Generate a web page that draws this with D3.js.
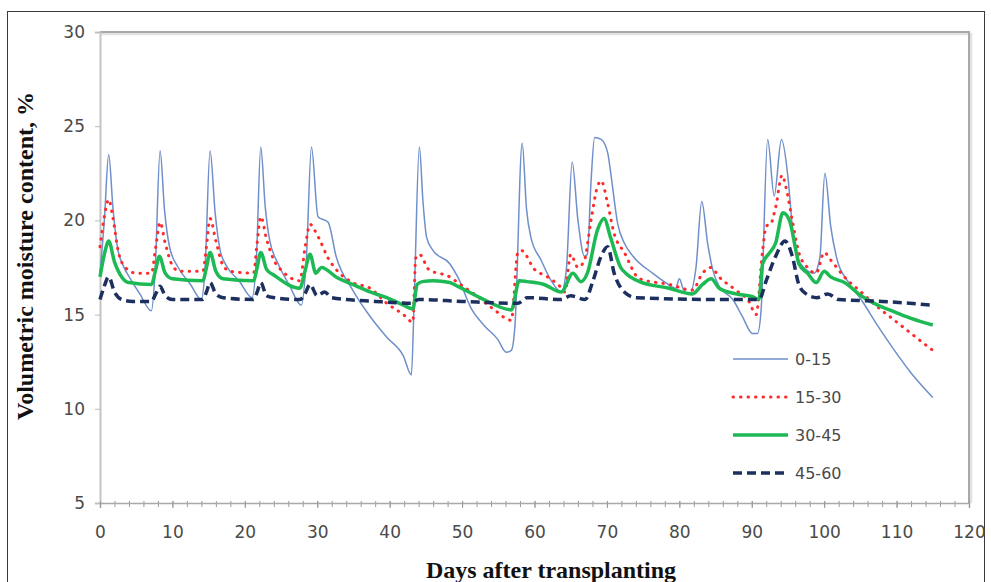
<!DOCTYPE html>
<html>
<head>
<meta charset="utf-8">
<script src="https://cdn.jsdelivr.net/npm/d3@7"></script>
<style>
  html, body { margin: 0; padding: 0; background: #fff; }
  svg { display: block; }
</style>
</head>
<body>
<svg id="chart" width="991" height="582"></svg>
<script>
// Soil moisture by depth layer (cm), [day after transplanting, volumetric moisture %]
const layer0_15 = [[0,17.2],[0.6,20.0],[1.2,23.5],[1.8,20.6],[2.4,18.6],[3.2,17.6],[4.2,16.9],[5.5,16.1],[7.1,15.2],[7.6,17.2],[8.3,23.7],[8.9,20.6],[9.6,18.6],[10.8,17.5],[12.5,16.6],[14.0,15.8],[14.5,17.4],[15.2,23.7],[15.9,20.4],[16.6,18.4],[17.6,17.5],[19.2,16.8],[21.0,15.9],[21.6,18.0],[22.2,23.9],[22.8,20.8],[23.4,19.0],[24.6,17.7],[26.1,16.6],[27.8,15.5],[28.5,18.0],[29.2,23.9],[30.1,20.2],[31.5,19.9],[32.6,18.1],[34.9,16.3],[37.3,14.9],[39.6,13.8],[41.9,12.8],[43.0,11.8],[43.4,16.0],[44.1,23.9],[44.6,21.0],[45.1,19.1],[46.0,18.4],[48.3,17.7],[49.4,17.0],[51.3,15.3],[53.1,14.4],[54.9,13.7],[56.1,13.0],[56.8,13.1],[57.3,14.4],[58.3,24.1],[58.9,20.6],[59.5,19.1],[60.9,17.9],[62.3,16.8],[63.7,16.2],[64.4,17.4],[65.2,23.1],[66.0,20.0],[66.9,18.1],[67.3,18.2],[67.8,22.0],[68.3,24.4],[69.2,24.3],[70.1,23.6],[70.6,22.3],[71.5,19.8],[72.4,18.8],[73.6,18.1],[76.3,17.2],[78.1,16.7],[79.5,16.4],[80.0,16.9],[80.6,16.3],[81.4,16.1],[82.3,17.5],[83.1,21.0],[83.9,18.8],[84.6,17.4],[85.5,16.5],[87.4,15.8],[88.7,14.9],[90.1,14.0],[90.8,14.0],[91.3,15.3],[92.2,24.3],[93.1,21.3],[94.1,24.3],[95.0,22.3],[95.6,19.7],[96.5,17.9],[97.2,17.5],[98.6,17.2],[99.4,18.0],[100.1,22.5],[100.9,19.7],[101.8,17.9],[103.2,16.8],[105.1,15.8],[107.4,14.4],[109.7,13.1],[112.0,11.9],[115.0,10.6]];

const layer15_30 = [[0,18.6],[0.6,20.2],[1.2,21.1],[1.8,20.1],[2.5,18.4],[3.5,17.5],[5,17.2],[7.1,17.2],[7.7,18.6],[8.3,19.9],[9.0,18.8],[10,17.6],[11,17.3],[14.2,17.3],[14.7,18.6],[15.2,20.1],[16,18.9],[17,17.6],[18,17.3],[21.2,17.2],[21.7,18.8],[22.2,20.2],[23,19.0],[24,17.9],[25.2,17.3],[27.6,16.8],[28.3,18.5],[29.0,19.8],[29.6,19.5],[30.3,19.0],[31.5,18.0],[32.6,17.4],[34.9,16.7],[37.3,16.4],[39.6,15.6],[41.9,15.0],[43.2,14.6],[43.6,18.0],[44.1,18.2],[45.4,17.4],[48.3,17.0],[49.4,16.7],[52,16.0],[54.3,15.3],[56.8,14.7],[57.7,18.3],[58.2,18.4],[60,17.4],[61.8,17.0],[63.5,16.5],[64.2,16.2],[65,18.2],[66,17.5],[66.9,17.9],[67.8,20.0],[68.7,21.8],[69.2,22.1],[70.1,20.9],[71,19.3],[72.4,18.3],[74.5,16.9],[78.6,16.6],[81.8,16.3],[83.2,17.2],[84.4,17.5],[85.5,17.0],[87.8,16.3],[89.6,15.7],[90.6,15.0],[91.5,18.4],[92,19.7],[92.6,19.8],[93.3,20.7],[94.2,22.4],[94.7,21.8],[95.6,20.0],[96.5,18.3],[97.7,17.5],[98.9,17.2],[100,18.3],[100.9,17.9],[102.8,17.0],[105.1,16.2],[107.4,15.4],[109.7,14.7],[112,14.0],[115,13.1]];

const layer30_45 = [[0,17.0],[0.6,18.2],[1.2,18.9],[2,17.8],[3,17.0],[4,16.7],[7.1,16.6],[7.7,17.4],[8.2,18.1],[9,17.2],[10,16.9],[14.2,16.8],[14.7,17.5],[15.2,18.3],[16,17.3],[17,16.9],[21.2,16.8],[21.7,17.5],[22.2,18.3],[23,17.4],[24,17.1],[27.6,16.4],[28.3,17.3],[29,18.2],[29.8,17.2],[30.6,17.5],[32.6,17.0],[34.9,16.6],[37.3,16.2],[39.6,15.9],[41.9,15.5],[43.2,15.3],[43.8,16.6],[44.5,16.75],[46,16.8],[48.3,16.7],[49.4,16.5],[53,15.8],[56.8,15.25],[57.9,16.8],[59,16.75],[61.3,16.6],[63.7,16.2],[65.3,17.2],[66.4,16.75],[67.3,17.2],[68.7,19.5],[69.6,20.1],[70.5,19.1],[71.9,17.5],[72.6,17.2],[74.5,16.75],[78.6,16.4],[81.8,16.1],[83.2,16.6],[84.4,16.9],[85.5,16.4],[87.8,16.1],[90.1,15.95],[91,15.8],[91.5,17.7],[92.4,18.25],[93.3,18.8],[94.3,20.4],[95.2,20.0],[96.1,18.4],[96.5,17.7],[97.7,17.2],[98.9,16.7],[100,17.3],[100.9,17.0],[102.8,16.7],[105.1,16.0],[107.4,15.5],[109.7,15.15],[112,14.8],[115,14.45]];

const layer45_60 = [[0,15.8],[0.5,16.4],[1.2,17.0],[2,16.2],[3,15.8],[4.5,15.7],[7.1,15.7],[7.7,16.1],[8.3,16.5],[9,16.0],[10,15.8],[14.2,15.8],[14.7,16.2],[15.2,16.7],[16,16.1],[17,15.9],[21.2,15.8],[21.7,16.2],[22.2,16.7],[23,16.0],[24,15.9],[27.6,15.8],[28.3,16.1],[29,16.6],[30,16.0],[31,16.2],[32,15.9],[38,15.7],[43,15.6],[44,15.8],[50,15.7],[57.7,15.6],[59,15.9],[63.7,15.8],[65,16.0],[67,15.8],[68,16.7],[69.2,18.1],[70.1,18.6],[71,17.2],[72.4,16.2],[74,15.9],[85,15.8],[91,15.8],[92,16.8],[93.3,18.1],[94.6,18.9],[95.6,18.1],[96.5,16.6],[97.5,16.1],[99,15.9],[100.5,16.1],[102,15.8],[108,15.7],[115,15.5]];

const seriesNames = ["0-15", "15-30", "30-45", "45-60"];
const xTicks = [0, 10, 20, 30, 40, 50, 60, 70, 80, 90, 100, 110, 120];
const yTicks = [5, 10, 15, 20, 25, 30];
const xTitle = "Days after transplanting";
const yTitle = "Volumetric moisture content, %";

const svg = d3.select("#chart");
const plot = { left: 100, right: 969, top: 32, bottom: 503 };

const x = d3.scaleLinear().domain([0, 120]).range([plot.left, plot.right]);
const y = d3.scaleLinear().domain([5, 30]).range([plot.bottom, plot.top]);

// outer frame of the figure
svg.append("rect").attr("x", 7.5).attr("y", 11.5).attr("width", 977).attr("height", 600)
  .attr("fill", "#fff").attr("stroke", "#3a3a3a").attr("stroke-width", 1);

// plot frame: top and right edges with a soft shadow
const frame = svg.append("g");
frame.append("path")
  .attr("d", `M${plot.left},${plot.top + 2}H${plot.right + 2}V${plot.bottom}`)
  .attr("fill", "none").attr("stroke", "#e2e2e2").attr("stroke-width", 2.5);
frame.append("path")
  .attr("d", `M${plot.left},${plot.top}H${plot.right}V${plot.bottom}`)
  .attr("fill", "none").attr("stroke", "#a9a9a9").attr("stroke-width", 2);

const tickFont = "'DejaVu Sans', sans-serif";
const tickColor = "#4a4a4a";

// y axis
const yAxis = svg.append("g").attr("transform", `translate(${plot.left},0)`)
  .call(d3.axisLeft(y).tickValues(yTicks).tickSize(5).tickPadding(10).tickFormat(d3.format("d")));
yAxis.select(".domain").attr("stroke", "#c4c4c4").attr("stroke-width", 2);
yAxis.selectAll(".tick line").attr("stroke", "#bdbdbd");
yAxis.selectAll(".tick text").attr("fill", tickColor).style("font-family", tickFont).style("font-size", "17px");

// x axis: minor ticks every 2 days, labelled ticks every 10
const xMinor = svg.append("g").attr("transform", `translate(0,${plot.bottom})`)
  .call(d3.axisBottom(x).tickValues(d3.range(0, 121, 2)).tickSize(4).tickFormat(""));
xMinor.select(".domain").remove();
xMinor.selectAll(".tick line").attr("stroke", "#9a9a9a").attr("y1", -2);

const xAxis = svg.append("g").attr("transform", `translate(0,${plot.bottom})`)
  .call(d3.axisBottom(x).tickValues(xTicks).tickSize(5).tickPadding(18).tickFormat(d3.format("d")));
xAxis.select(".domain").attr("stroke", "#a9a9a9").attr("stroke-width", 1.5);
xAxis.selectAll(".tick line").attr("stroke", "#9a9a9a").attr("y1", -2);
xAxis.selectAll(".tick text").attr("fill", tickColor).style("font-family", tickFont).style("font-size", "17px");

// axis titles
svg.append("text")
  .attr("x", 551).attr("y", 578).attr("text-anchor", "middle")
  .style("font-family", "'Liberation Serif', 'Times New Roman', serif")
  .style("font-weight", "bold").style("font-size", "24px").attr("fill", "#111")
  .text(xTitle);
svg.append("text")
  .attr("transform", "translate(33,256) rotate(-90)").attr("text-anchor", "middle")
  .style("font-family", "'Liberation Serif', 'Times New Roman', serif")
  .style("font-weight", "bold").style("font-size", "24px").attr("fill", "#111")
  .text(yTitle);

// series styles
const styles = [
  { data: layer0_15,  color: "#6f8fca", width: 1.5, dash: null, cap: "butt" },
  { data: layer15_30, color: "#ff2a2a", width: 3,   dash: "0.5,7", cap: "round" },
  { data: layer30_45, color: "#1db954", width: 3.5, dash: null, cap: "butt" },
  { data: layer45_60, color: "#1d2f5e", width: 3.5, dash: "9,5", cap: "butt" }
];

const line = d3.line()
  .x(d => x(d[0]))
  .y(d => y(d[1]))
  .curve(d3.curveMonotoneX);

const lines = svg.append("g");
styles.forEach(s => {
  lines.append("path")
    .attr("d", line(s.data))
    .attr("fill", "none")
    .attr("stroke", s.color)
    .attr("stroke-width", s.width)
    .attr("stroke-linecap", s.cap)
    .attr("stroke-linejoin", "round")
    .attr("stroke-dasharray", s.dash);
});

// legend
const legend = svg.append("g");
const legendY = d3.scalePoint().domain(seriesNames).range([359, 473]);
seriesNames.forEach((name, i) => {
  const s = styles[i];
  const ly = legendY(name);
  legend.append("line")
    .attr("x1", 733).attr("x2", 788).attr("y1", ly).attr("y2", ly)
    .attr("stroke", s.color).attr("stroke-width", s.width)
    .attr("stroke-linecap", s.cap).attr("stroke-dasharray", s.dash);
  legend.append("text")
    .attr("x", 795).attr("y", ly).attr("dy", "0.36em")
    .attr("fill", tickColor).style("font-family", tickFont).style("font-size", "16px")
    .text(name);
});
</script>
</body>
</html>
